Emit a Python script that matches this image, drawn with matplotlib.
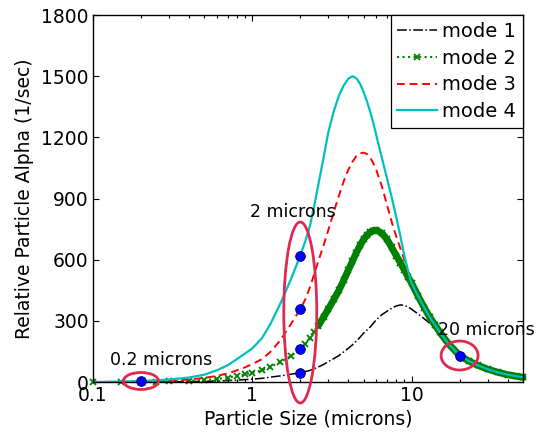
import numpy as np
import matplotlib
matplotlib.use("Agg")
import matplotlib.pyplot as plt
from matplotlib.patches import Ellipse
import matplotlib.transforms as mtransforms
from matplotlib.ticker import FixedLocator, FixedFormatter, NullFormatter

# ---------------- data ----------------
size_um = [0.1, 0.15, 0.2, 0.25, 0.3, 0.4, 0.5, 0.6, 0.7, 0.8,
           0.9, 1.0, 1.15, 1.3, 1.5, 1.75, 2.0, 2.15, 2.3, 2.45,
           2.6, 2.8, 3.0, 3.25, 3.5, 3.75, 4.0, 4.25, 4.5, 4.75,
           5.0, 5.25, 5.5, 5.75, 6.0, 6.5, 7.0, 7.5, 8.0, 8.5,
           9.0, 9.5, 10, 11, 12, 13, 14, 15, 17, 20,
           23, 26, 30, 35, 40, 45, 50]

mode1 = [0, 0, 0, 0, 1, 2, 3, 5, 7, 9,
         12, 14, 18, 24, 30, 38, 46, 51, 57, 65,
         74, 86, 100, 115, 130, 148, 165, 182, 200, 220,
         240, 255, 270, 288, 305, 330, 347, 362, 373, 378,
         376, 368, 357, 333, 310, 288, 266, 245, 188, 130,
         102, 82, 63, 47, 36, 29, 23]

mode2 = [0, 0, 1, 2, 3, 6, 10, 15, 21, 29,
         38, 46, 58, 75, 98, 128, 160, 185, 215, 245,
         277, 318, 358, 405, 450, 500, 548, 592, 635, 670,
         700, 720, 735, 743, 745, 730, 700, 660, 620, 585,
         550, 515, 485, 420, 365, 318, 280, 245, 188, 130,
         102, 82, 63, 47, 36, 29, 23]

mode3 = [0, 1, 2, 4, 6, 12, 20, 30, 42, 57,
         72, 88, 112, 148, 205, 285, 357, 405, 465, 530,
         595, 670, 745, 835, 915, 985, 1040, 1080, 1108, 1122,
         1125, 1118, 1100, 1072, 1040, 960, 870, 785, 715, 655,
         600, 540, 485, 420, 365, 318, 280, 245, 188, 130,
         102, 82, 63, 47, 36, 29, 23]

mode4 = [0, 2, 5, 8, 12, 22, 36, 58, 82, 112,
         140, 165, 215, 285, 385, 505, 620, 690, 765, 865,
         970, 1100, 1225, 1330, 1405, 1455, 1487, 1500, 1490, 1462,
         1422, 1375, 1325, 1270, 1210, 1100, 1000, 905, 811, 715,
         620, 545, 485, 420, 365, 318, 280, 245, 188, 130,
         102, 82, 63, 47, 36, 29, 23]

labels = ["mode 1", "mode 2", "mode 3", "mode 4"]

dot_small_x, dot_small_y = 0.2, 5
dot_mid_x = 2.0
dot_mid_y = [46, 160, 357, 620]
dot_big_x, dot_big_y = 20.0, 130

x_ticks = [0.1, 1, 10]
x_ticklabels = ["0.1", "1", "10"]
y_ticks = [0, 300, 600, 900, 1200, 1500, 1800]

# ---------------- figure ----------------
plt.rcParams["font.family"] = ["DejaVu Sans"]
fig = plt.figure(figsize=(5.41, 4.40), dpi=100)
ax = fig.add_axes([0.1719, 0.1318, 0.7948, 0.8341])

x = np.array(size_um)
m2 = np.array(mode2)

ax.plot(x, mode1, color="black", ls="-.", lw=1.1, label=labels[0], clip_on=False, zorder=2)
band = x >= 2.6
ax.plot(x[band], m2[band], color="#008000", ls="-", lw=5.0, clip_on=False, zorder=2.1,
        solid_capstyle="round")
ax.plot(x, m2, color="#008000", ls=":", lw=1.5, marker="x", ms=4, mew=1.3,
        label=labels[1], clip_on=False, zorder=2.2)
ax.plot(x, mode3, color="#ff0000", ls=(0, (4, 2.5)), lw=1.4, label=labels[2], clip_on=False, zorder=2.3)
ax.plot(x, mode4, color="#00bfbf", ls="-", lw=1.6, label=labels[3], clip_on=False, zorder=2.4)

# blue dots
dots_x = [dot_small_x] + [dot_mid_x] * len(dot_mid_y) + [dot_big_x]
dots_y = [dot_small_y] + dot_mid_y + [dot_big_y]
ax.plot(dots_x, dots_y, ls="none", marker="o", ms=7, mfc="#0000ff", mec="#000066",
        mew=0.6, zorder=6, clip_on=False)

# red ellipses (sizes in pixels, converted to inches)
ell_color = "#e0294f"
def add_ellipse(xc, yc, wpx, hpx):
    trans = fig.dpi_scale_trans + mtransforms.ScaledTranslation(xc, yc, ax.transData)
    e = Ellipse((0, 0), wpx / 100.0, hpx / 100.0, transform=trans, fill=False,
                ec=ell_color, lw=2.0, zorder=5, clip_on=False)
    ax.add_artist(e)

add_ellipse(dot_small_x, dot_small_y, 35, 17)
add_ellipse(dot_mid_x, (min(dot_mid_y) + max(dot_mid_y)) / 2 + 8, 33, 181)
add_ellipse(dot_big_x, dot_big_y, 37, 29)

# annotation texts
ax.annotate("0.2 microns", (dot_small_x, dot_small_y), xytext=(20, 21),
            textcoords="offset pixels", ha="center", va="center", fontsize=12.5,
            annotation_clip=False, zorder=7)
ax.annotate("2 microns", (dot_mid_x, max(dot_mid_y)), xytext=(-7, 44),
            textcoords="offset pixels", ha="center", va="center", fontsize=12.5,
            annotation_clip=False, zorder=7)
ax.annotate("20 microns", (dot_big_x, dot_big_y), xytext=(27, 26),
            textcoords="offset pixels", ha="center", va="center", fontsize=12.5,
            annotation_clip=False, zorder=7)

# axes
ax.set_xscale("log")
ax.set_xlim(0.1, 50)
ax.set_ylim(0, 1800)
ax.xaxis.set_major_locator(FixedLocator(x_ticks))
ax.xaxis.set_major_formatter(FixedFormatter(x_ticklabels))
minors = [m * d for d in (0.1, 1, 10) for m in range(2, 10) if m * d < 50]
ax.xaxis.set_minor_locator(FixedLocator(minors))
ax.xaxis.set_minor_formatter(NullFormatter())
ax.set_yticks(y_ticks)
ax.tick_params(which="both", direction="in", top=True, right=True, labelsize=13.5)
ax.tick_params(which="major", length=4, width=0.8, pad=3)
ax.tick_params(which="minor", length=2.5, width=0.8)
for s in ax.spines.values():
    s.set_linewidth(1.0)

ax.set_xlabel("Particle Size (microns)", fontsize=13.5, labelpad=3)
ax.set_ylabel("Relative Particle Alpha (1/sec)", fontsize=13.5, labelpad=5)

leg = ax.legend(loc="upper right", bbox_to_anchor=(1, 1), borderaxespad=0,
                fontsize=14, fancybox=False, framealpha=1, edgecolor="black",
                handlelength=2.05, handletextpad=0.26, labelspacing=0.4,
                borderpad=0.35)
leg.get_frame().set_linewidth(0.9)
leg.set_zorder(10)

fig.savefig("out.png", dpi=100)
